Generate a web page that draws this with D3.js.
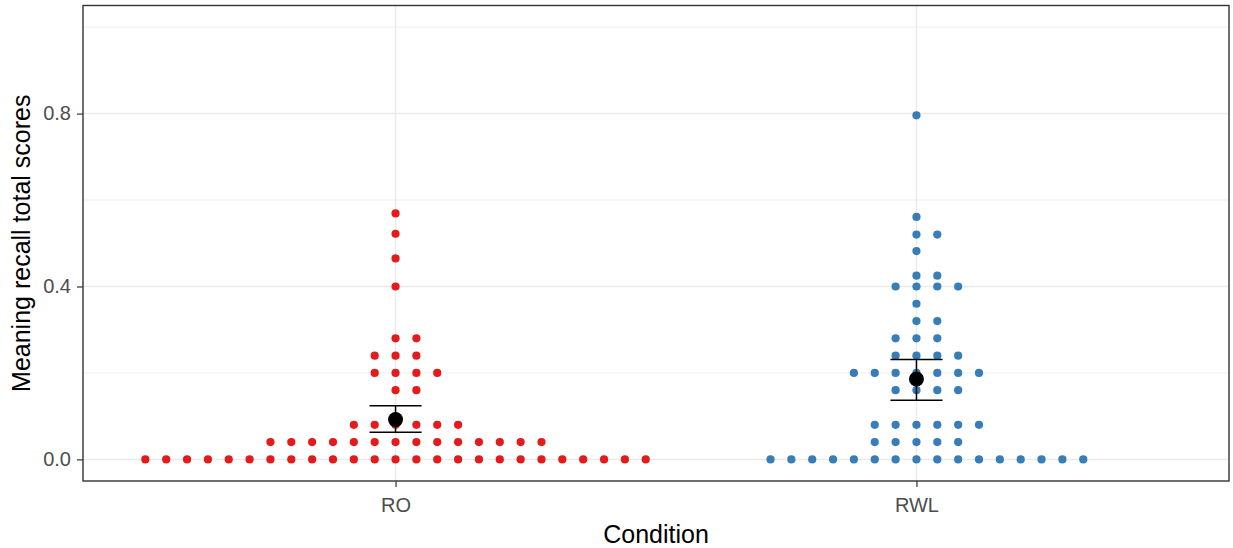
<!DOCTYPE html>
<html>
<head>
<meta charset="utf-8">
<script src="https://d3js.org/d3.v7.min.js"></script>
<style>
  body { margin: 0; background: #fff; }
  svg { display: block; font-family: "Liberation Sans", Arial, sans-serif; }
</style>
</head>
<body>
<script>
    // categories and dot stacks (score level -> number of participants)
    var conditions = ["RO", "RWL"];
    var colors = ["#E41A1C", "#377EB8"];

    var roLevels = [0, 0.04, 0.08, 0.16, 0.2, 0.24, 0.28, 0.4, 0.465, 0.522, 0.569];
    var roCounts = [25, 14, 6, 2, 4, 3, 2, 1, 1, 1, 1];

    var rwlLevels = [0, 0.04, 0.08, 0.16, 0.2, 0.24, 0.28, 0.32, 0.36, 0.4, 0.425, 0.482, 0.52, 0.561, 0.796];
    var rwlCounts = [16, 5, 6, 4, 7, 4, 3, 2, 1, 4, 2, 1, 2, 1, 1];

    // mean and error bar
    var means = [0.092, 0.186];
    var lower = [0.063, 0.137];
    var upper = [0.124, 0.231];

    var yTicks = [0, 0.4, 0.8];
    var yMinor = [0.2, 0.6, 1.0];

    var width = 1233;
    var height = 548;
    var pLeft = 83, pRight = 1229, pTop = 5.5, pBottom = 481;

    var svg = d3.select("body")
    .append("svg")
    .attr("width", width)
    .attr("height", height);

    var scaleX = d3.scalePoint()
    .domain(conditions)
    .range([pLeft, pRight])
    .padding(0.6);

    var scaleY = d3.scaleLinear()
    .domain([-0.05, 1.05])
    .range([pBottom, pTop]);

    var step = scaleX.step();
    var stackStep = 20.85;

    // grid
    var grid = svg.append("g");
    grid.selectAll(".minor")
    .data(yMinor)
    .enter()
    .append("line")
    .attr("x1", pLeft).attr("x2", pRight)
    .attr("y1", function(d){return scaleY(d);})
    .attr("y2", function(d){return scaleY(d);})
    .attr("stroke", "#ebebeb")
    .attr("stroke-width", 0.8);

    grid.selectAll(".major")
    .data(yTicks)
    .enter()
    .append("line")
    .attr("x1", pLeft).attr("x2", pRight)
    .attr("y1", function(d){return scaleY(d);})
    .attr("y2", function(d){return scaleY(d);})
    .attr("stroke", "#ebebeb")
    .attr("stroke-width", 1.5);

    grid.selectAll(".vmajor")
    .data(conditions)
    .enter()
    .append("line")
    .attr("y1", pTop).attr("y2", pBottom)
    .attr("x1", function(d){return scaleX(d);})
    .attr("x2", function(d){return scaleX(d);})
    .attr("stroke", "#ebebeb")
    .attr("stroke-width", 1.5);

    // expand stacks into dots, centred like ggplot's "centerwhole"
    var dots = [];
    var groups = [[roLevels, roCounts], [rwlLevels, rwlCounts]];
    for(var g=0; g<groups.length; g++){
        var lv = groups[g][0], ct = groups[g][1];
        for(var i=0; i<lv.length; i++){
            var n = ct[i];
            for(var k=0; k<n; k++){
                dots.push({cond: conditions[g], value: lv[i], offset: k - Math.floor((n-1)/2), col: colors[g]});
            }
        }
    }

    svg.append("g")
    .selectAll("circle")
    .data(dots)
    .enter()
    .append("circle")
    .attr("cx", function(d){return scaleX(d.cond) + d.offset*stackStep;})
    .attr("cy", function(d){return scaleY(d.value);})
    .attr("r", 4.1)
    .style("fill", function(d){return d.col;});

    // mean +/- error
    var summ = svg.append("g");
    var half = step*0.05;
    conditions.forEach(function(c, i){
        var cx = scaleX(c);
        summ.append("line")
        .attr("x1", cx).attr("x2", cx)
        .attr("y1", scaleY(lower[i])).attr("y2", scaleY(upper[i]))
        .attr("stroke", "#000").attr("stroke-width", 1.5);
        [lower[i], upper[i]].forEach(function(v){
            summ.append("line")
            .attr("x1", cx-half).attr("x2", cx+half)
            .attr("y1", scaleY(v)).attr("y2", scaleY(v))
            .attr("stroke", "#000").attr("stroke-width", 1.5);
        });
        summ.append("circle")
        .attr("cx", cx).attr("cy", scaleY(means[i]))
        .attr("r", 7.5)
        .style("fill", "#000");
    });

    // panel border
    svg.append("rect")
    .attr("x", pLeft).attr("y", pTop)
    .attr("width", pRight-pLeft).attr("height", pBottom-pTop)
    .attr("fill", "none")
    .attr("stroke", "#333333")
    .attr("stroke-width", 1.4);

    // axes
    var xAxis = svg.append("g")
    .attr("transform", "translate(0," + pBottom + ")")
    .call(d3.axisBottom(scaleX).tickSize(6).tickPadding(11));

    var yAxis = svg.append("g")
    .attr("transform", "translate(" + pLeft + ",0)")
    .call(d3.axisLeft(scaleY).tickValues(yTicks).tickFormat(d3.format(".1f")).tickSize(6).tickPadding(6));

    [xAxis, yAxis].forEach(function(a){
        a.select(".domain").remove();
        a.selectAll("line").attr("stroke", "#333333").attr("stroke-width", 1.2);
        a.selectAll("text")
        .attr("fill", "#4d4d4d")
        .style("font-size", "20px")
        .style("font-family", "Liberation Sans, Arial, sans-serif");
    });

    svg.append("text")
    .attr("x", (pLeft+pRight)/2)
    .attr("y", 543)
    .attr("text-anchor", "middle")
    .style("font-size", "25px")
    .text("Condition");

    svg.append("text")
    .attr("transform", "translate(30," + ((pTop+pBottom)/2) + ") rotate(-90)")
    .attr("text-anchor", "middle")
    .style("font-size", "25px")
    .text("Meaning recall total scores");
</script>
</body>
</html>
